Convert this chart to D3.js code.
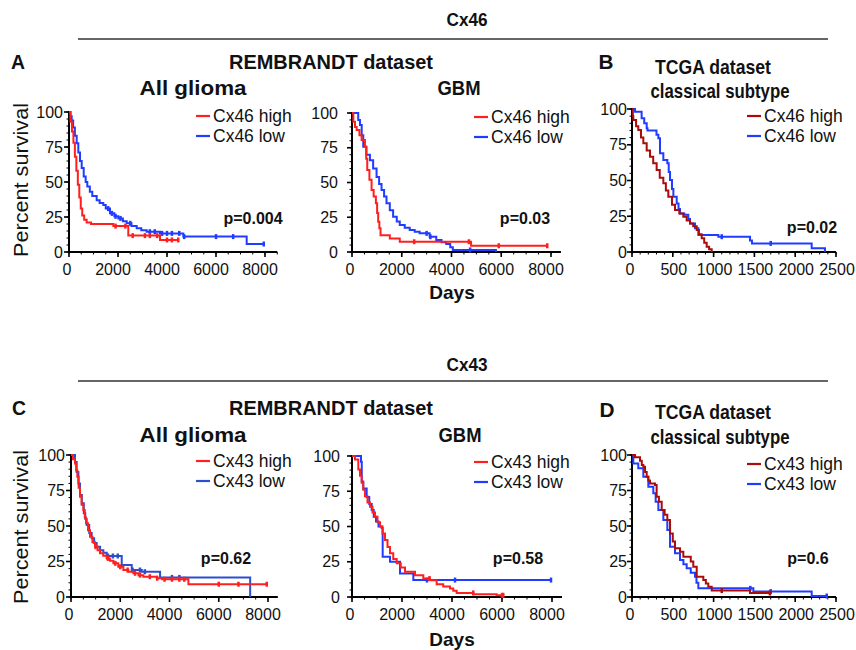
<!DOCTYPE html>
<html><head><meta charset="utf-8">
<script src="https://cdn.jsdelivr.net/npm/d3@7"></script>
<style>body{margin:0;background:#fff} svg{display:block}</style>
</head><body>
<svg id="chart" width="856" height="650"></svg>
<script>
// ---------------- DATA (day, percent survival) ----------------
const a1High = [[0,100],[60,93],[120,86],[180,78],[240,68],[300,58],[360,48],[420,39],[480,31],[540,26],[620,23],[720,21],[900,20],[1810,18.5],[2420,11.7],[3714,8.6],[4460,8.6]];
const a1HighCens = [1900,2300,2600,3100,3300,3600,4000,4200,4460];
const a1Low = [[0,100],[60,97],[110,94],[170,89],[240,83],[314,77.6],[380,71],[450,65],[518,60],[600,54],[680,50],[747,46.7],[850,43],[950,40],[1130,37],[1250,35],[1400,33.6],[1500,31],[1673,27.6],[1850,25.5],[2013,24],[2200,22],[2355,20.5],[2550,18.5],[2763,16.9],[2950,15.5],[3170,14.5],[3714,13.3],[4667,11],[7252,5.7],[7950,5.7]];
const a1LowCens = [1600,1750,1900,2100,2500,3300,3500,3800,4000,4200,4500,4700,6000,6700,7950];

const a2High = [[0,100],[53,93.7],[120,90],[187,87.8],[300,84],[387,80.6],[520,75.8],[570,67],[613,59],[700,52],[787,44.6],[870,40],[960,35],[1010,28],[1053,21.8],[1100,17],[1147,12],[1520,9.8],[1920,7.4],[4787,4.5],[7850,4.5]];
const a2HighCens = [2500,4700,5900,7850];
const a2Low = [[0,100],[187,100],[250,95],[320,91.4],[390,84],[453,75.8],[580,70],[720,66],[850,60],[987,54],[1090,49],[1187,44.6],[1290,40],[1387,35],[1520,30],[1653,25.4],[1800,22],[1920,19.4],[2120,17.5],[2320,15.8],[2520,14.5],[2720,13.4],[3120,11],[3387,8.6],[3600,7],[3787,5.8],[3950,3.5],[4053,1.5],[5787,0]];
const a2LowCens = [3000,3150,4750];

const bHigh = [[0,100],[10,95],[16,92.3],[50,88],[77,85.3],[110,80],[139,76],[180,71],[221,66.6],[260,62],[302,57.3],[340,52],[384,48],[415,43],[445,38.7],[490,33],[527,29.4],[580,27],[629,24.7],[670,22],[711,20],[750,18],[793,15.4],[820,12.5],[854,9.6],[885,6.5],[915,3.7],[945,2],[977,0]];
const bHighCens = [];
const bLow = [[0,100],[37,98],[118,93.5],[150,90],[180,86.5],[190,85],[300,82],[323,79.5],[343,69],[384,64.3],[433,62],[450,56],[466,50.3],[490,44],[507,38.7],[548,34],[570,30],[588,27],[640,26],[690,23],[711,20],[772,16.6],[813,11.9],[1058,10.7],[1446,8],[1470,6],[2202,2.6],[2365,0]];
const bLowCens = [1100,1700];

const c1High = [[0,100],[80,97],[163,94],[210,89],[257,84.7],[310,77],[366,70.6],[430,65],[501,61.3],[560,56],[610,51.9],[690,47],[772,42.5],[870,38.5],[976,35.4],[1080,33],[1179,30.8],[1310,29],[1450,27.2],[1580,25.5],[1720,23.7],[1920,21.3],[2127,19],[2330,17.8],[2533,16.7],[2740,15.4],[2940,14.3],[3483,13.2],[3700,12.5],[4768,9],[7950,9]];
const c1HighCens = [1000,1500,1800,2000,2300,2600,2800,3200,3500,3800,4100,4400,4600,6000,6800,7950];
const c1Low = [[0,100],[100,100],[163,95],[230,88],[300,80],[366,71.8],[440,66],[520,59],[580,55],[637,50.7],[740,45],[840,41.3],[940,38],[1043,35.4],[1180,33],[1313,31.2],[1450,28.9],[2060,22.5],[2466,19],[2873,17.8],[3618,13.8],[7276,0]];
const c1LowCens = [1500,1700,1900,2500,2800,3000,4100,4400];

const c2High = [[0,100],[120,97.6],[253,90.5],[320,86],[387,81],[450,76],[520,71.4],[620,67],[720,64],[820,60],[920,57],[1020,53],[1120,50],[1220,45],[1320,40.5],[1420,35.5],[1520,31],[1650,27],[1787,23.9],[1950,21],[2120,17.9],[2520,15.5],[2853,13.1],[3120,11.9],[3387,9],[3650,7.5],[3920,6],[4050,4.5],[4187,2.9],[4853,1.9],[5787,1.2],[6050,1.2]];
const c2HighCens = [3100,4850,6000,6050];
const c2Low = [[0,100],[320,100],[360,96],[390,82],[450,77],[587,71],[690,66],[787,61.7],[870,57],[960,53.5],[1060,50],[1187,49],[1227,28.6],[1520,25],[1920,16.7],[2453,12],[7960,12]];
const c2LowCens = [3000,4120,7960];

const dHigh = [[0,100],[37,98.4],[98,96],[120,93],[139,91.8],[160,88],[180,84.7],[200,82],[221,80],[282,78.9],[302,70.6],[330,67],[364,61.3],[400,58],[433,54.2],[466,44.8],[500,39],[527,34.3],[588,31.9],[629,28.4],[720,25],[751,21.3],[793,14.3],[874,12],[905,9.5],[935,7.3],[977,4.5],[1446,2.8],[1690,2.8]];
const dHighCens = [1100,1690];
const dLow = [[0,100],[16,94],[77,90.6],[139,84.7],[200,77.7],[261,73],[290,67],[323,61.3],[384,54.2],[433,47.2],[466,35.4],[527,30.8],[588,26],[630,23],[670,20.2],[720,17],[772,14.3],[790,10],[813,6.1],[997,6.1],[1487,3.8],[2202,0.7],[2386,0.7]];
const dLowCens = [1450,1700,2386];

const yTicks = [0,25,50,75,100];
const xTicksLong = [0,2000,4000,6000,8000];
const xTicksShort = [0,500,1000,1500,2000,2500];
const pValues = ["p=0.004","p=0.03","p=0.02","p=0.62","p=0.58","p=0.6"];
const legendCx46 = ["Cx46 high","Cx46 low"];
const legendCx43 = ["Cx43 high","Cx43 low"];

// ---------------- LAYOUT ----------------
const RED="#ff1f1f", BLUE="#1f3cff", DRED="#aa0c0c", BLUEC="#2a4fd0";
const panels = [
 {x0:69,x1:265,yTop:112,yBot:252,xMax:8000,axisEnd:8500,xt:xTicksLong,dx:-5,gap:6,
  high:a1High,low:a1Low,hc:a1HighCens,lc:a1LowCens,colH:RED,colL:BLUE,leg:legendCx46,lx:196,ly:116,p:pValues[0],px:253,py:218},
 {x0:352,x1:551,yTop:113,yBot:252,xMax:8000,axisEnd:8400,xt:xTicksLong,dx:-5,gap:14,
  high:a2High,low:a2Low,hc:a2HighCens,lc:a2LowCens,colH:RED,colL:BLUE,leg:legendCx46,lx:474,ly:117,p:pValues[1],px:525,py:218},
 {x0:632,x1:836,yTop:109,yBot:252,xMax:2500,axisEnd:2500,xt:xTicksShort,dx:1,gap:5,
  high:bHigh,low:bLow,hc:bHighCens,lc:bLowCens,colH:DRED,colL:BLUE,leg:legendCx46,lx:747,ly:116,p:pValues[2],px:812,py:227},
 {x0:71,x1:268,yTop:455,yBot:597,xMax:8000,axisEnd:8400,xt:xTicksLong,dx:-5,gap:6,
  high:c1High,low:c1Low,hc:c1HighCens,lc:c1LowCens,colH:RED,colL:BLUEC,leg:legendCx43,lx:196,ly:461,p:pValues[3],px:226,py:558},
 {x0:352,x1:552,yTop:456,yBot:597,xMax:8000,axisEnd:8400,xt:xTicksLong,dx:-5,gap:12,
  high:c2High,low:c2Low,hc:c2HighCens,lc:c2LowCens,colH:RED,colL:BLUE,leg:legendCx43,lx:474,ly:462,p:pValues[4],px:518,py:558},
 {x0:632,x1:836,yTop:455,yBot:597,xMax:2500,axisEnd:2500,xt:xTicksShort,dx:1,gap:5,
  high:dHigh,low:dLow,hc:dHighCens,lc:dLowCens,colH:DRED,colL:BLUE,leg:legendCx43,lx:747,ly:464,p:pValues[5],px:808,py:558}
];

const svg = d3.select("#chart");
const FONT = "'Liberation Sans', Arial, sans-serif";
const NARROW = "'Liberation Sans Narrow', 'Arial Narrow', 'Liberation Sans', Arial, sans-serif";

function label(txt, cx, cy, size, width, bold=true){
  const t = svg.append("text").attr("x",cx).attr("y",cy)
    .attr("text-anchor","middle").attr("dominant-baseline","central")
    .style("font-family",NARROW).style("font-size",size+"px")
    .style("font-weight",bold?"bold":"normal").attr("fill","#111").text(txt);
  if(width){ t.attr("textLength",width).attr("lengthAdjust","spacingAndGlyphs"); }
  return t;
}

// headers
label("Cx46",467,19,19,41);
svg.append("line").attr("x1",78).attr("x2",828).attr("y1",39).attr("y2",39).attr("stroke","#333").attr("stroke-width",1.6);
label("A",18,62,20,14);
label("REMBRANDT dataset",331,62,20,204);
label("B",606,62,20,15);
label("TCGA dataset",713,66,21,116);
label("All glioma",193,88,20,107);
label("GBM",459,88,20,43);
label("classical subtype",720,90,21,139);

label("Cx43",467,364,19,41);
svg.append("line").attr("x1",78).attr("x2",828).attr("y1",381).attr("y2",381).attr("stroke","#333").attr("stroke-width",1.6);
label("C",19,408,20,14);
label("REMBRANDT dataset",331,408,20,204);
label("D",607,410,20,15);
label("TCGA dataset",713,411,21,116);
label("All glioma",193,435,20,107);
label("GBM",460,435,20,43);
label("classical subtype",720,436,21,139);

// axis titles
[180,527].forEach(cy=>{
  svg.append("text").attr("transform",`translate(20,${cy}) rotate(-90)`)
    .attr("text-anchor","middle").attr("dominant-baseline","central")
    .style("font-family",FONT).style("font-size","21px").attr("fill","#111")
    .attr("textLength",154).attr("lengthAdjust","spacingAndGlyphs")
    .text("Percent survival");
});
[[452,292],[452,639]].forEach(([cx,cy])=>{
  svg.append("text").attr("x",cx).attr("y",cy).attr("text-anchor","middle")
    .attr("dominant-baseline","central").style("font-family",FONT)
    .style("font-size","19px").style("font-weight","bold").attr("fill","#111").text("Days");
});

function survAt(data,t){ let s=100; for(const [d,v] of data){ if(d<=t) s=v; else break; } return s; }

panels.forEach(p=>{
  const g = svg.append("g");
  const x = d3.scaleLinear().domain([0,p.xMax]).range([p.x0,p.x1]);
  const y = d3.scaleLinear().domain([0,100]).range([p.yBot,p.yTop]);
  const xEnd = x(p.axisEnd);

  const yMinor = d3.range(0,101,5);
  g.selectAll(".ym").data(yMinor).join("line")
    .attr("x1",p.x0).attr("x2",p.x0-2.5).attr("y1",d=>y(d)).attr("y2",d=>y(d))
    .attr("stroke","#000").attr("stroke-width",1);
  const xMinor = d3.range(0,p.axisEnd+1,p.xMax>3000?500:100);
  g.selectAll(".xm").data(xMinor).join("line")
    .attr("x1",d=>x(d)).attr("x2",d=>x(d)).attr("y1",p.yBot).attr("y2",p.yBot+2.5)
    .attr("stroke","#000").attr("stroke-width",1);
  g.selectAll(".yM").data(yTicks).join("line")
    .attr("x1",p.x0).attr("x2",p.x0-5).attr("y1",d=>y(d)).attr("y2",d=>y(d))
    .attr("stroke","#000").attr("stroke-width",1.6);
  g.selectAll(".xM").data(p.xt).join("line")
    .attr("x1",d=>x(d)).attr("x2",d=>x(d)).attr("y1",p.yBot).attr("y2",p.yBot+5)
    .attr("stroke","#000").attr("stroke-width",1.6);
  g.append("line").attr("x1",p.x0).attr("x2",p.x0).attr("y1",p.yBot+1).attr("y2",p.yTop-1)
    .attr("stroke","#000").attr("stroke-width",2);
  g.append("line").attr("x1",p.x0-1).attr("x2",xEnd).attr("y1",p.yBot).attr("y2",p.yBot)
    .attr("stroke","#000").attr("stroke-width",2);
  g.selectAll(".yl").data(yTicks).join("text")
    .attr("x",p.x0-p.gap).attr("y",d=>y(d)).attr("text-anchor","end")
    .attr("dominant-baseline","central").style("font-family",FONT).style("font-size","16px")
    .attr("fill","#111").text(d=>d);
  g.selectAll(".xl").data(p.xt).join("text")
    .attr("x",d=>x(d)+(d===0?-2:p.dx)).attr("y",p.yBot+17).attr("text-anchor","middle")
    .attr("dominant-baseline","central").style("font-family",FONT).style("font-size","16px")
    .attr("fill","#111").text(d=>d);

  const line = d3.line().x(d=>x(d[0])).y(d=>y(d[1])).curve(d3.curveStepAfter);
  [[p.low,p.lc,p.colL],[p.high,p.hc,p.colH]].forEach(([data,cens,col])=>{
    g.append("path").attr("d",line(data)).attr("fill","none")
      .attr("stroke",col).attr("stroke-width",2);
    g.selectAll(null).data(cens).join("line")
      .attr("x1",d=>x(d)).attr("x2",d=>x(d))
      .attr("y1",d=>y(survAt(data,d))-2.5).attr("y2",d=>y(survAt(data,d))+2.5)
      .attr("stroke",col).attr("stroke-width",2.5);
  });

  [[p.leg[0],p.colH,p.ly],[p.leg[1],p.colL,p.ly+20]].forEach(([t,col,ly])=>{
    g.append("line").attr("x1",p.lx).attr("x2",p.lx+14).attr("y1",ly).attr("y2",ly)
      .attr("stroke",col).attr("stroke-width",2.2);
    g.append("text").attr("x",p.lx+17).attr("y",ly).attr("dominant-baseline","central")
      .style("font-family",FONT).style("font-size","17.5px").attr("fill","#111").text(t);
  });
  g.append("text").attr("x",p.px).attr("y",p.py).attr("text-anchor","middle")
    .attr("dominant-baseline","central").style("font-family",FONT).style("font-size","16px")
    .style("font-weight","bold").attr("fill","#111").text(p.p);
});
</script>
</body></html>
